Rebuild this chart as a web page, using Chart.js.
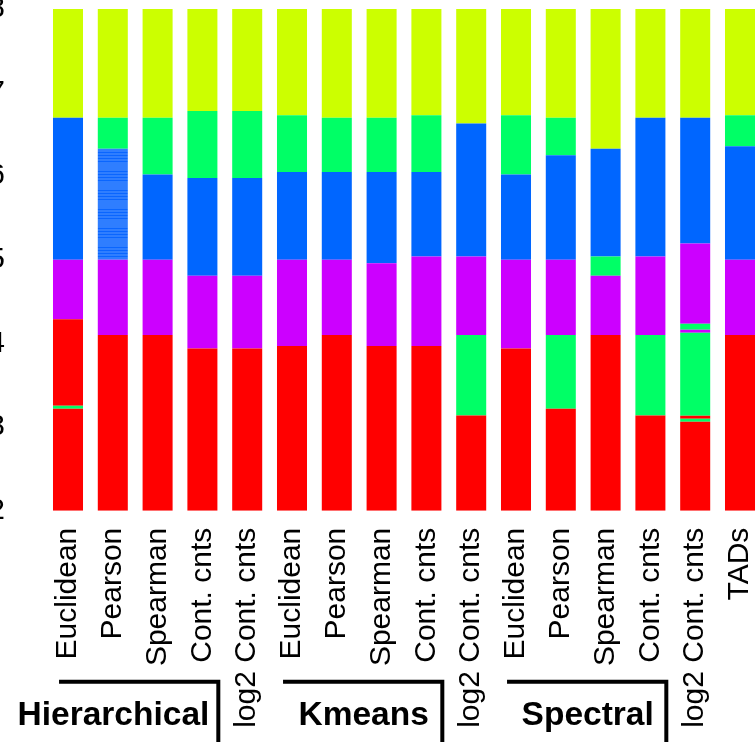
<!DOCTYPE html>
<html>
<head>
<meta charset="utf-8">
<script src="https://cdn.jsdelivr.net/npm/chart.js@4/dist/chart.umd.min.js"></script>
<style>
  html, body { margin: 0; padding: 0; overflow: hidden; background: #fff; width: 756px; height: 742px; }
  canvas { display: block; }
</style>
</head>
<body>
<canvas id="domains" width="780" height="742"></canvas>
<script>
// Clustering method / distance used for each column
const methods = [
  'Euclidean', 'Pearson', 'Spearman', 'Cont. cnts', 'log2 Cont. cnts',
  'Euclidean', 'Pearson', 'Spearman', 'Cont. cnts', 'log2 Cont. cnts',
  'Euclidean', 'Pearson', 'Spearman', 'Cont. cnts', 'log2 Cont. cnts',
  'TADs'
];

// Algorithm families, with the first and last column they bracket
const groups = ['Hierarchical', 'Kmeans', 'Spectral'];
const groupFirst = [0, 5, 10];
const groupLast = [3, 8, 13];

// Genomic window (Mb) and axis ticks
const regionStart = 2;
const yTicks = [2, 3, 4, 5, 6, 7, 8];

// Upper end (Mb) of each domain in a column, listed bottom to top
const domainEnds = [
  [3.22, 3.255, 4.29, 5.00, 6.70, 8],
  [4.10, 5.00, 6.33, 6.70, 8],
  [4.10, 5.00, 6.02, 6.70, 8],
  [3.94, 4.81, 5.98, 6.78, 8],
  [3.94, 4.81, 5.98, 6.78, 8],
  [3.97, 5.00, 6.05, 6.73, 8],
  [4.10, 5.00, 6.05, 6.70, 8],
  [3.97, 4.96, 6.05, 6.70, 8],
  [3.97, 5.04, 6.05, 6.73, 8],
  [3.14, 4.10, 5.04, 6.63, 8],
  [3.94, 5.00, 6.02, 6.73, 8],
  [3.22, 4.10, 5.00, 6.25, 6.70, 8],
  [4.10, 4.81, 5.04, 6.33, 8],
  [3.14, 4.10, 5.04, 6.70, 8],
  [3.064, 3.10, 3.136, 4.128, 4.163, 4.235, 5.195, 6.70, 8],
  [4.10, 5.00, 6.36, 6.73, 8]
];

// Cluster assigned to each of those domains (0..4), 5 = fragmented bins
const domainClusters = [
  [0, 2, 0, 4, 3, 1],
  [0, 4, 5, 2, 1],
  [0, 4, 3, 2, 1],
  [0, 4, 3, 2, 1],
  [0, 4, 3, 2, 1],
  [0, 4, 3, 2, 1],
  [0, 4, 3, 2, 1],
  [0, 4, 3, 2, 1],
  [0, 4, 3, 2, 1],
  [0, 2, 4, 3, 1],
  [0, 4, 3, 2, 1],
  [0, 2, 4, 3, 2, 1],
  [0, 4, 2, 3, 1],
  [0, 2, 4, 3, 1],
  [0, 2, 0, 2, 4, 2, 4, 3, 1],
  [0, 4, 3, 2, 1]
];

// rainbow(5) palette
const clusterColors = ['#FF0000', '#CCFF00', '#00FF66', '#0066FF', '#CC00FF'];

// Finely interleaved bins are shown as a striped blue fill
function stripedBlue() {
  const c = document.createElement('canvas');
  c.width = 8; c.height = 19;
  const g = c.getContext('2d');
  g.fillStyle = '#2F7EFF';
  g.fillRect(0, 0, 8, 19);
  g.fillStyle = '#0A66FF';
  [0, 3, 6, 9].forEach(y => g.fillRect(0, y, 8, 1));
  return document.getElementById('domains').getContext('2d').createPattern(c, 'repeat');
}
const mixedFill = stripedBlue();
const fillFor = k => (k === 5 ? mixedFill : clusterColors[k]);

// One floating-bar dataset per domain layer
const maxDomains = Math.max(...domainEnds.map(d => d.length));
const datasets = [];
for (let k = 0; k < maxDomains; k++) {
  datasets.push({
    data: domainEnds.map(ends => (k < ends.length ? [k === 0 ? regionStart : ends[k - 1], ends[k]] : null)),
    backgroundColor: domainClusters.map(cl => (k < cl.length ? fillFor(cl[k]) : 'rgba(0,0,0,0)')),
    borderWidth: 0,
    grouped: false,
    barPercentage: 0.67,
    categoryPercentage: 1.0
  });
}

const FONT = "'Liberation Sans', Arial, Helvetica, sans-serif";
Chart.defaults.font.family = FONT;
Chart.defaults.color = '#000';

// Brackets and family names below the column labels
const groupBrackets = {
  id: 'groupBrackets',
  afterDraw(chart) {
    const { ctx, chartArea } = chart;
    const xs = chart.scales.x;
    const step = xs.getPixelForValue(1) - xs.getPixelForValue(0);
    const yLine = chartArea.bottom + 171;
    const yText = chartArea.bottom + 214;
    ctx.save();
    ctx.strokeStyle = '#000';
    ctx.lineWidth = 4;
    ctx.lineJoin = 'miter';
    ctx.lineCap = 'butt';
    ctx.font = "bold 33.5px " + FONT;
    ctx.fillStyle = '#000';
    ctx.textAlign = 'center';
    ctx.textBaseline = 'alphabetic';
    groups.forEach((name, i) => {
      const x1 = xs.getPixelForValue(groupFirst[i]) - 0.2 * step;
      const x2 = xs.getPixelForValue(groupLast[i]) + 0.4 * step;
      ctx.beginPath();
      ctx.moveTo(x1, yLine);
      ctx.lineTo(x2 - 2, yLine);
      ctx.lineTo(x2 - 2, chart.height + 10);
      ctx.stroke();
      const w = ctx.measureText(name).width;
      const cx = Math.min((x1 + x2) / 2, x2 - 11 - w / 2);
      ctx.fillText(name, cx, yText);
    });
    ctx.restore();
  }
};

new Chart(document.getElementById('domains'), {
  type: 'bar',
  data: { labels: methods, datasets },
  options: {
    responsive: false,
    animation: false,
    devicePixelRatio: 1,
    layout: { padding: { top: 9, right: 17.6, left: 0, bottom: 0 } },
    plugins: { legend: { display: false }, tooltip: { enabled: false } },
    scales: {
      x: {
        type: 'category',
        offset: true,
        grid: { display: false, drawTicks: false },
        border: { display: false },
        ticks: {
          autoSkip: false,
          minRotation: 90,
          maxRotation: 90,
          padding: 17,
          font: { size: 30 },
          color: '#000'
        },
        afterFit(s) { s.height = 231.3; s.paddingLeft = 0; s.paddingRight = 0; }
      },
      y: {
        type: 'linear',
        min: regionStart,
        max: 8,
        grid: { display: false, drawTicks: false },
        border: { display: false },
        ticks: { padding: 40.6, font: { size: 30 }, color: '#000' },
        afterBuildTicks(s) { s.ticks = yTicks.map(v => ({ value: v })); },
        afterFit(s) { s.width = 45.6; s.paddingTop = 0; s.paddingBottom = 0; }
      }
    }
  },
  plugins: [groupBrackets]
});
</script>
</body>
</html>
